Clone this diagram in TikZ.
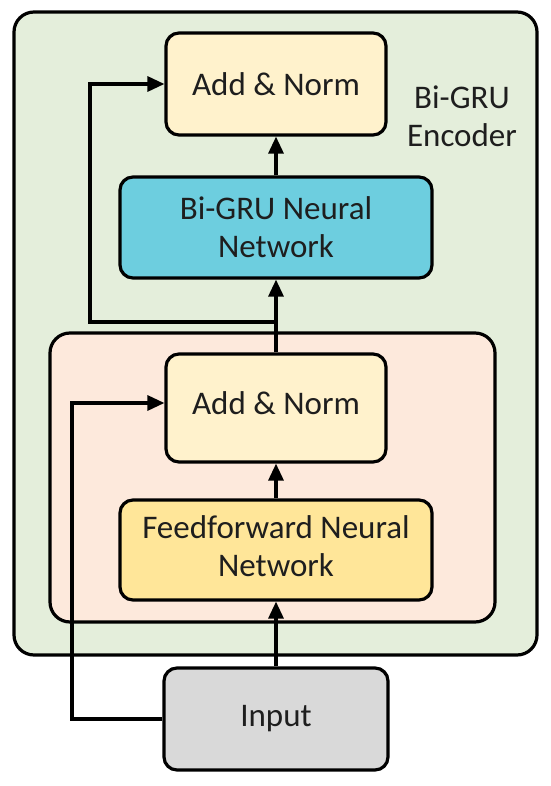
\documentclass[tikz,border=0pt]{standalone}
\usepackage{fontspec}
\setmainfont{Carlito}
\usetikzlibrary{arrows.meta}
\definecolor{outergreen}{HTML}{E4EEDB}
\definecolor{innerpink}{HTML}{FDE9DC}
\definecolor{normyellow}{HTML}{FFF2CC}
\definecolor{grublue}{HTML}{6DCEDF}
\definecolor{ffyellow}{HTML}{FFE699}
\definecolor{inputgray}{HTML}{D9D9D9}
\definecolor{textgray}{HTML}{1E1E1E}
\tikzset{
  box/.style={draw=black, line width=3.2pt, rounded corners=13pt, align=center,
    font=\fontsize{33}{38}\selectfont, text=textgray, inner sep=0pt},
  frame/.style={draw=black, line width=3.2pt, rounded corners=20pt, inner sep=0pt},
  conn/.style={draw=black, line width=3.2pt},
  arr/.style={conn, -{Triangle[length=17pt,width=15pt]}},
}
\begin{document}
\begin{tikzpicture}[x=1pt,y=-1pt]
\useasboundingbox (0,0) rectangle (550,786);
\node[frame, fill=outergreen, minimum width=523pt, minimum height=643pt] (outer) at (275.5,333.5) {};
\node[frame, fill=innerpink, minimum width=445pt, minimum height=289pt] (inner) at (272.5,477.5) {};
\node[box, fill=normyellow, minimum width=220pt, minimum height=102pt] (an1) at (276,84) {Add \& Norm};
\node[box, fill=grublue, minimum width=312pt, minimum height=101pt] (gru) at (276,227.5) {Bi-GRU Neural\\Network};
\node[box, fill=normyellow, minimum width=220pt, minimum height=108pt, text depth=10pt] (an2) at (276,408) {Add \& Norm};
\node[box, fill=ffyellow, minimum width=312pt, minimum height=100pt, text depth=7pt] (ff) at (276,550) {Feedforward Neural\\Network};
\node[box, fill=inputgray, minimum width=224pt, minimum height=102pt] (inp) at (276,719) {Input};
\node[align=center, font=\fontsize{33}{38}\selectfont, text=textgray] (lbl) at (462,116) {Bi-GRU\\Encoder};
\coordinate (j) at (276,322);
\draw[arr] (gru.north) -- (an1.south);
\draw[arr] (ff.north) -- (an2.south);
\draw[arr] (inp.north) -- (ff.south);
\draw[conn] (an2.north) -- (j);
\draw[arr] (j) -- (gru.south);
\draw[arr] (j) -| (90,84) -- (an1.west);
\draw[arr] (inp.west) -| (72,403) -- (an2.west |- 0,403);
\end{tikzpicture}
\end{document}
